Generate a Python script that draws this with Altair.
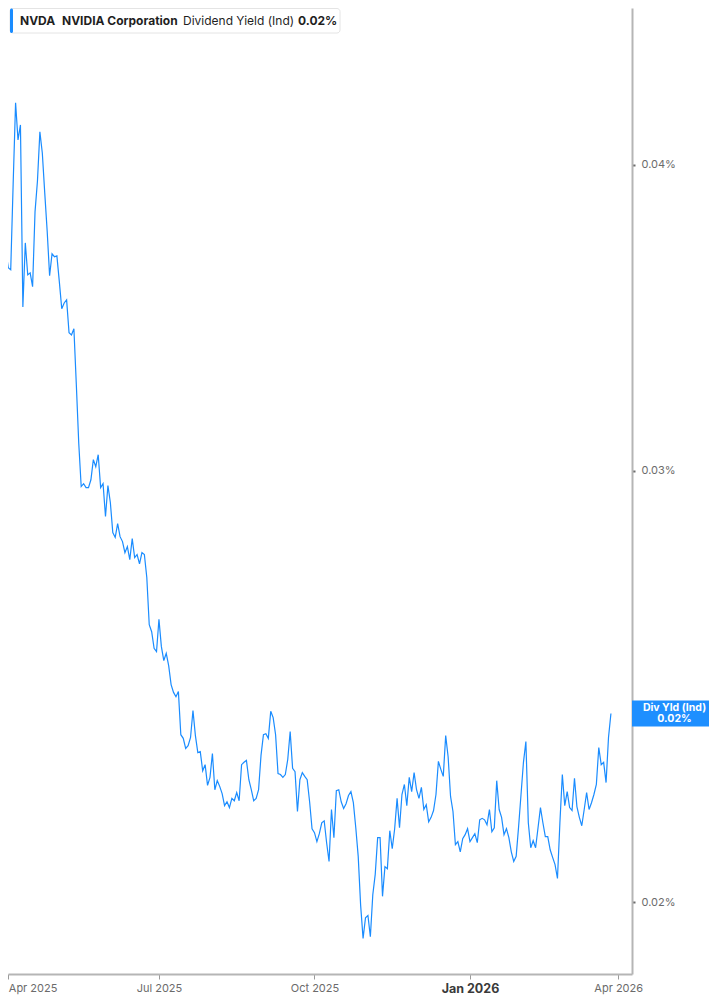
import altair as alt
import pandas as pd

# trading-day index (0 = 1 Apr 2025) and NVDA indicated dividend yield (%)
trading_day = list(range(-3, 249))
div_yield = [
    0.03574, 0.03651, 0.03689, 0.03631, 0.03624, 0.03929, 0.04240, 0.04095, 0.04153, 0.03500,
    0.03717, 0.03607, 0.03614, 0.03567, 0.03827, 0.03940, 0.04126, 0.04045, 0.03896, 0.03759,
    0.03604, 0.03679, 0.03669, 0.03672, 0.03584, 0.03494, 0.03513, 0.03523, 0.03416, 0.03409,
    0.03429, 0.03253, 0.03078, 0.02956, 0.02964, 0.02953, 0.02953, 0.02975, 0.03032, 0.03012,
    0.03046, 0.02953, 0.02964, 0.02874, 0.02959, 0.02912, 0.02831, 0.02818, 0.02855, 0.02820,
    0.02807, 0.02778, 0.02794, 0.02760, 0.02815, 0.02765, 0.02773, 0.02749, 0.02778, 0.02773,
    0.02714, 0.02596, 0.02579, 0.02539, 0.02531, 0.02609, 0.02543, 0.02510, 0.02527, 0.02498,
    0.02454, 0.02436, 0.02426, 0.02438, 0.02341, 0.02333, 0.02311, 0.02317, 0.02335, 0.02395,
    0.02339, 0.02302, 0.02304, 0.02263, 0.02276, 0.02232, 0.02249, 0.02300, 0.02223, 0.02242,
    0.02230, 0.02215, 0.02190, 0.02198, 0.02186, 0.02205, 0.02200, 0.02217, 0.02200, 0.02276,
    0.02281, 0.02285, 0.02244, 0.02223, 0.02200, 0.02205, 0.02223, 0.02296, 0.02341, 0.02343,
    0.02333, 0.02393, 0.02379, 0.02341, 0.02257, 0.02255, 0.02249, 0.02255, 0.02287, 0.02348,
    0.02268, 0.02261, 0.02178, 0.02244, 0.02259, 0.02251, 0.02244, 0.02198, 0.02143, 0.02135,
    0.02117, 0.02133, 0.02155, 0.02159, 0.02115, 0.02078, 0.02182, 0.02125, 0.02221, 0.02223,
    0.02198, 0.02184, 0.02194, 0.02211, 0.02219, 0.02196, 0.02145, 0.02088, 0.01994, 0.01933,
    0.01971, 0.01975, 0.01936, 0.02014, 0.02053, 0.02125, 0.02125, 0.02011, 0.02068, 0.02064,
    0.02139, 0.02103, 0.02143, 0.02205, 0.02145, 0.02213, 0.02234, 0.02190, 0.02249, 0.02219,
    0.02259, 0.02223, 0.02205, 0.02228, 0.02182, 0.02192, 0.02157, 0.02166, 0.02180, 0.02213,
    0.02283, 0.02266, 0.02251, 0.02339, 0.02293, 0.02209, 0.02178, 0.02111, 0.02117, 0.02097,
    0.02123, 0.02131, 0.02143, 0.02117, 0.02125, 0.02133, 0.02115, 0.02161, 0.02164, 0.02161,
    0.02151, 0.02182, 0.02137, 0.02145, 0.02242, 0.02182, 0.02166, 0.02131, 0.02143, 0.02125,
    0.02097, 0.02078, 0.02088, 0.02147, 0.02213, 0.02281, 0.02326, 0.02155, 0.02105, 0.02119,
    0.02105, 0.02145, 0.02186, 0.02155, 0.02127, 0.02127, 0.02101, 0.02086, 0.02072, 0.02045,
    0.02155, 0.02255, 0.02190, 0.02219, 0.02186, 0.02180, 0.02247, 0.02188, 0.02166, 0.02149,
    0.02182, 0.02217, 0.02182, 0.02196, 0.02213, 0.02234, 0.02313, 0.02276, 0.02281, 0.02238,
    0.02335, 0.02388,
]
assert len(trading_day) == len(div_yield)

tick_days = [0, 62, 126, 190, 251]
tick_labels = ["Apr 2025", "Jul 2025", "Oct 2025", "Jan 2026", "Apr 2026"]
year_tick = 190
y_ticks = [0.02, 0.03, 0.04]

header_texts = ["NVDA", "NVIDIA Corporation", "Dividend Yield (Ind)", "0.02%"]
header_weights = ["bold", "bold", "normal", "bold"]
header_x = [12, 54, 175, 290]

BLUE = "#1a8cff"
FONT = "Inter"

df = pd.DataFrame({"day": trading_day, "yld": div_yield})
last = df.iloc[[-1]].reset_index(drop=True)

label_expr = " : ".join(
    f"datum.value == {d} ? '{l}'" for d, l in zip(tick_days, tick_labels)
) + " : ''"

x_enc = alt.X(
    "day:Q",
    scale=alt.Scale(domain=[-0.12, 256.67], nice=False, zero=False),
    axis=alt.Axis(
        values=tick_days,
        labelExpr=label_expr,
        title=None,
        grid=False,
        domainColor="#b5b5b5",
        domainWidth=2,
        tickColor="#9a9a9a",
        tickSize=5,
        tickWidth=1,
        labelPadding=3,
        labelFont=FONT,
        labelFontSize={"condition": {"test": f"datum.value == {year_tick}", "value": 12.5}, "value": 11},
        labelFontWeight={"condition": {"test": f"datum.value == {year_tick}", "value": "bold"}, "value": "normal"},
        labelColor={"condition": {"test": f"datum.value == {year_tick}", "value": "#3a3a3a"}, "value": "#6b6b6b"},
        labelOverlap=False,
    ),
)
y_enc = alt.Y(
    "yld:Q",
    scale=alt.Scale(type="log", domain=[0.018694, 0.046355], nice=False, zero=False),
    axis=alt.Axis(
        orient="right",
        values=y_ticks,
        labelExpr="format(datum.value, '.2f') + '%'",
        title=None,
        grid=False,
        domainColor="#b5b5b5",
        domainWidth=2,
        tickColor="#6b6b6b",
        tickSize=3,
        tickWidth=2,
        labelPadding=6,
        labelFont=FONT,
        labelFontSize=11,
        labelColor="#6b6b6b",
    ),
)

line = alt.Chart(df).mark_line(color=BLUE, strokeWidth=1.2, clip=True).encode(x=x_enc, y=y_enc)

box = alt.Chart(last).mark_rect(color="#1e8fff", yOffset=-13, y2Offset=13).encode(
    x=alt.value(624), x2=alt.value(709), y="yld:Q", y2="yld:Q"
)
box_t1 = alt.Chart(last).mark_text(
    color="white", fontWeight="bold", fontSize=10.5, font=FONT, dy=-5.5, align="center", baseline="middle"
).encode(x=alt.value(666.5), y="yld:Q", text=alt.value("Div Yld (Ind)"))
box_t2 = alt.Chart(last).transform_calculate(
    lab="format(datum.yld, '.2f') + '%'"
).mark_text(
    color="white", fontWeight="bold", fontSize=10.5, font=FONT, dy=5.5, align="center", baseline="middle"
).encode(x=alt.value(666.5), y="yld:Q", text="lab:N")

hdr_df = pd.DataFrame({"t": [0]})
hdr_box = alt.Chart(hdr_df).mark_rect(
    fill="white", stroke="#e4e4e4", strokeWidth=1, cornerRadius=3
).encode(x=alt.value(2), x2=alt.value(332), y=alt.value(0.5), y2=alt.value(25))
hdr_bar = alt.Chart(hdr_df).mark_rect(fill=BLUE, cornerRadius=1.5).encode(
    x=alt.value(2), x2=alt.value(5), y=alt.value(0.5), y2=alt.value(25)
)
hdr_layers = []
for txt, wt, hx in zip(header_texts, header_weights, header_x):
    hdr_layers.append(
        alt.Chart(hdr_df).mark_text(
            align="left", baseline="middle", fontSize=12, font=FONT, fontWeight=wt, color="#1f1f1f"
        ).encode(x=alt.value(hx), y=alt.value(13), text=alt.value(txt))
    )

chart = alt.layer(line, box, box_t1, box_t2, hdr_box, hdr_bar, *hdr_layers).properties(
    width=624,
    height=966,
    autosize=alt.AutoSizeParams(type="none"),
    padding={"left": 0, "top": 0, "right": 77, "bottom": 22},
    background="white",
).configure_view(strokeWidth=0)

chart.save("out.html", embed_options={"renderer": "svg", "actions": False})
